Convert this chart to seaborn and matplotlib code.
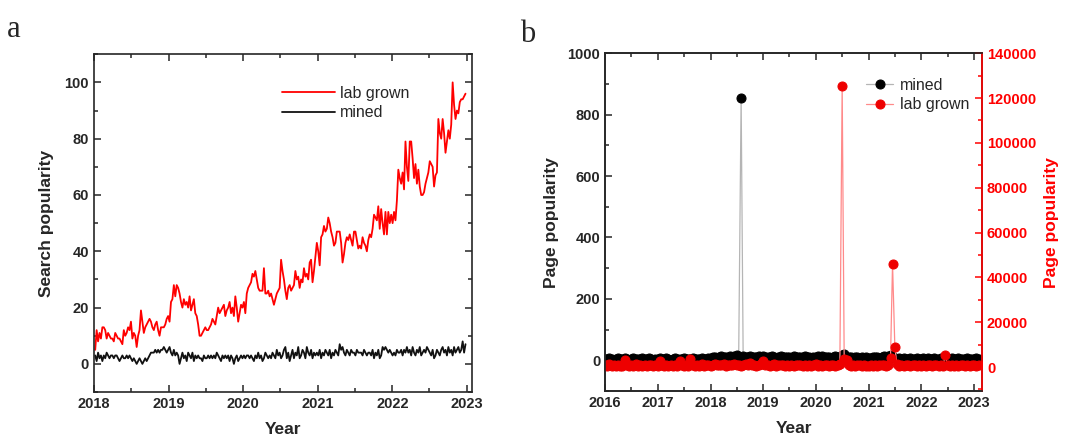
import pandas as pd
import numpy as np
import matplotlib
matplotlib.use("Agg")
import matplotlib.pyplot as plt
from matplotlib.ticker import MultipleLocator
import matplotlib.dates as mdates
import seaborn as sns

# ==========================================================
# Data
# ==========================================================

# panel a : weekly search popularity 2018-2022
lab_grown_search = [
    5, 12, 8, 11, 9, 13, 13, 12, 9, 11, 10, 9, 9, 8, 11, 10, 9, 9, 8, 7,
    12, 10, 11, 13, 12, 15, 9, 11, 10, 6, 10, 12, 19, 15, 11, 13, 14, 15, 16, 15,
    13, 12, 14, 15, 12, 10, 13, 13, 13, 14, 16, 17,
    15, 22, 23, 28, 24, 28, 27, 25, 22, 20, 23, 21, 22, 20, 24, 19, 21, 23, 18, 17,
    14, 10, 10, 11, 12, 13, 12, 12, 13, 14, 16, 15, 14, 17, 20, 18, 19, 20, 21, 17,
    19, 20, 22, 18, 20, 17, 24, 20, 15, 18, 21, 20,
    22, 18, 25, 27, 28, 29, 32, 31, 33, 30, 27, 26, 26, 26, 34, 25, 25, 26, 24, 25,
    23, 21, 23, 25, 26, 27, 37, 33, 30, 26, 23, 27, 28, 26, 27, 28, 33, 30, 31, 27,
    30, 29, 34, 31, 32, 30, 36, 37, 29, 33, 38, 43,
    40, 35, 45, 46, 49, 47, 48, 52, 50, 47, 45, 42, 43, 47, 47, 47, 43, 36, 39, 43,
    45, 44, 46, 44, 42, 47, 47, 44, 41, 42, 41, 45, 43, 42, 40, 44, 46, 45, 48, 53,
    52, 51, 56, 48, 55, 50, 46, 54, 46, 54, 50, 53,
    50, 54, 51, 58, 69, 66, 64, 68, 62, 79, 70, 65, 79, 79, 73, 66, 71, 64, 69, 63,
    60, 60, 61, 64, 66, 68, 72, 71, 70, 63, 67, 68, 87, 82, 80, 87, 82, 75, 79, 83,
    80, 85, 100, 92, 87, 90, 89, 93, 94, 94, 95, 96,
]
mined_search = [
    3, 1, 4, 2, 3, 1, 3, 2, 4, 3, 2, 3, 3, 2, 3, 3, 2, 1, 2, 3,
    2, 2, 3, 2, 3, 2, 1, 2, 1, 0, 1, 2, 1, 0, 1, 2, 1, 2, 3, 4,
    4, 4, 5, 4, 5, 4, 5, 5, 6, 5, 4, 5,
    6, 4, 3, 5, 3, 4, 3, 0, 2, 4, 2, 3, 1, 4, 3, 2, 4, 1, 3, 2,
    3, 2, 2, 1, 3, 2, 2, 3, 2, 3, 2, 3, 2, 4, 3, 2, 1, 3, 2, 3,
    2, 3, 1, 3, 2, 0, 2, 3, 1, 2, 3, 2,
    3, 2, 3, 3, 2, 3, 2, 1, 3, 2, 4, 2, 3, 1, 2, 4, 3, 2, 3, 2,
    4, 3, 2, 5, 3, 4, 2, 3, 5, 6, 2, 4, 1, 3, 5, 2, 4, 3, 6, 2,
    3, 5, 4, 2, 6, 4, 3, 5, 2, 4, 3, 4,
    3, 5, 2, 4, 3, 5, 4, 3, 5, 2, 4, 3, 5, 4, 3, 7, 5, 6, 4, 3,
    5, 4, 3, 5, 4, 4, 3, 5, 4, 4, 4, 3, 5, 4, 3, 4, 4, 3, 5, 2,
    4, 3, 5, 2, 3, 6, 5, 6, 5, 4, 5, 4,
    3, 4, 3, 5, 4, 4, 5, 3, 5, 4, 6, 4, 5, 3, 6, 4, 3, 5, 4, 6,
    3, 4, 5, 4, 6, 5, 4, 3, 5, 2, 3, 5, 4, 3, 5, 6, 4, 5, 3, 6,
    4, 5, 3, 6, 4, 5, 6, 4, 5, 8, 4, 7,
]

# panel b : half-monthly page popularity 2016-2023
mined_page = [
    5, 3, 6, 4, 2, 5, 7, 4, 3, 6, 5, 2, 4, 6, 3, 5, 4, 7, 3, 5, 6, 4, 2, 5,
    4, 6, 3, 5, 7, 4, 2, 5, 6, 3, 4, 5, 6, 4, 3, 5, 7, 4, 5, 3, 6, 4, 5, 6,
    8, 10, 12, 9, 11, 13, 10, 12, 9, 14, 11, 13, 16, 12, 855, 14, 12, 10, 13, 11, 12, 10, 14, 12,
    13, 11, 12, 10, 14, 12, 9, 11, 13, 12, 10, 11, 12, 9, 13, 11, 10, 12, 11, 13, 10, 12, 9, 11,
    12, 14, 10, 13, 11, 12, 10, 9, 11, 13, 12, 10, 18, 22, 12, 10, 11, 9, 12, 10, 8, 11, 9, 10,
    8, 9, 11, 10, 12, 9, 10, 13, 11, 14, 18, 10, 6, 5, 7, 4, 6, 5, 3, 6, 4, 5, 7, 4,
    5, 6, 4, 7, 5, 3, 6, 4, 5, 7, 4, 6, 5, 3, 6, 4, 5, 6, 4, 5, 3, 6, 4, 5,
    4, 6, 5,
]
lab_grown_page = [
    800, 300, 1200, 500, 900, 400, 1100, 600, 300, 3300, 700, 400, 900, 500, 1200, 300,
    800, 600, 1000, 400, 700, 900, 500, 1100,
    600, 2500, 900, 400, 1000, 500, 800, 300, 1100, 600, 2500, 700, 400, 900, 500, 3500,
    800, 600, 1000, 400, 1200, 500, 700, 900,
    600, 900, 1200, 700, 1000, 800, 1300, 600, 900, 1100, 700, 1200, 800, 1000, 600, 900,
    1300, 700, 2000, 800, 1100, 600, 900, 1200,
    2500, 700, 1000, 600, 900, 1200, 500, 800, 1100, 700, 400, 900, 600, 1000, 500, 800,
    700, 1100, 400, 900, 600, 1000, 500, 800,
    1500, 600, 900, 400, 1000, 700, 500, 800, 1100, 600, 900, 1200, 125500, 3500, 3000, 800,
    600, 1000, 500, 900, 700, 400, 800, 600,
    500, 900, 600, 1100, 400, 800, 700, 1000, 500, 900, 4000, 46000, 9000, 1500, 600, 900,
    400, 800, 1000, 500, 700, 900, 400, 800,
    600, 1000, 500, 900, 700, 400, 800, 1100, 600, 900, 500, 5500, 700, 400, 1000, 600,
    800, 500, 900, 700, 400, 1000, 600, 800,
    700, 500, 900,
]

weeks = pd.date_range("2018-01-07", periods=len(lab_grown_search), freq="W")
half_months = pd.date_range("2016-01-01", periods=len(mined_page), freq="SMS")

df_a = pd.DataFrame({"date": weeks, "lab grown": lab_grown_search, "mined": mined_search})
df_b = pd.DataFrame({"date": half_months, "mined": mined_page, "lab grown": lab_grown_page})

# ==========================================================
# Style
# ==========================================================

sns.set_style("ticks")
plt.rcParams["font.family"] = ["Liberation Sans", "DejaVu Sans"]
plt.rcParams["font.weight"] = "bold"
plt.rcParams["axes.linewidth"] = 1.2


def style_axis(ax):
    ax.tick_params(which="both", direction="in", width=1.1, labelsize=10.5)
    ax.tick_params(which="major", length=5)
    ax.tick_params(which="minor", length=3)
    for lab in ax.get_xticklabels() + ax.get_yticklabels():
        lab.set_fontweight("bold")


fig = plt.figure(figsize=(10.68, 4.41), dpi=100)

# ==========================================================
# Panel a
# ==========================================================

ax1 = fig.add_axes([0.088, 0.111, 0.354, 0.766])
sns.lineplot(data=df_a, x="date", y="lab grown", ax=ax1, color="#ff0000", linewidth=1.3, label="lab grown")
sns.lineplot(data=df_a, x="date", y="mined", ax=ax1, color="#111111", linewidth=1.3, label="mined")

ax1.set_xlim(pd.Timestamp("2018-01-01"), pd.Timestamp("2023-01-26"))
ax1.set_ylim(-10, 110)
ax1.xaxis.set_major_locator(mdates.YearLocator())
ax1.xaxis.set_minor_locator(mdates.MonthLocator(bymonth=7))
ax1.xaxis.set_major_formatter(mdates.DateFormatter("%Y"))
ax1.yaxis.set_major_locator(MultipleLocator(20))
ax1.yaxis.set_minor_locator(MultipleLocator(10))
ax1.tick_params(which="both", top=True, right=True)
style_axis(ax1)
ax1.set_xlabel("Year", fontsize=12.5, fontweight="bold", labelpad=8)
ax1.set_ylabel("Search popularity", fontsize=12.5, fontweight="bold", labelpad=8)
leg = ax1.legend(loc="upper left", bbox_to_anchor=(0.46, 0.95), frameon=False,
                 handlelength=3.3, fontsize=11.5, labelspacing=0.3, handletextpad=0.3)
for t in leg.get_texts():
    t.set_fontweight("normal")

# ==========================================================
# Panel b
# ==========================================================

ax2 = fig.add_axes([0.5665, 0.1134, 0.353, 0.766])
sns.lineplot(data=df_b, x="date", y="mined", ax=ax2, color="#b5b5b5", linewidth=0.9,
             marker="o", markersize=6.5, markerfacecolor="black", markeredgecolor="black",
             label="mined")
ax3 = ax2.twinx()
sns.lineplot(data=df_b, x="date", y="lab grown", ax=ax3, color="#ff8a8a", linewidth=0.9,
             marker="o", markersize=6.5, markerfacecolor="#ee0000", markeredgecolor="#ee0000",
             label="lab grown")

ax2.set_xlim(pd.Timestamp("2016-01-01"), pd.Timestamp("2023-02-25"))
ax2.set_ylim(-100, 1000)
ax3.set_ylim(-10700, 140000)
ax2.xaxis.set_major_locator(mdates.YearLocator())
ax2.xaxis.set_minor_locator(mdates.MonthLocator(bymonth=7))
ax2.xaxis.set_major_formatter(mdates.DateFormatter("%Y"))
ax2.yaxis.set_major_locator(MultipleLocator(200))
ax2.yaxis.set_minor_locator(MultipleLocator(100))
ax3.yaxis.set_major_locator(MultipleLocator(20000))
ax3.yaxis.set_minor_locator(MultipleLocator(10000))
ax2.tick_params(which="both", top=True)
style_axis(ax2)
style_axis(ax3)
ax3.tick_params(which="both", colors="#ff0000")
ax3.spines["right"].set_color("#ff0000")
for lab in ax3.get_yticklabels():
    lab.set_color("#ff0000")

ax2.set_xlabel("Year", fontsize=12.5, fontweight="bold", labelpad=8)
ax2.set_ylabel("Page popularity", fontsize=12.5, fontweight="bold", labelpad=6)
ax3.set_ylabel("Page popularity", fontsize=12.5, fontweight="bold", color="#ff0000", labelpad=6)

h2, l2 = ax2.get_legend_handles_labels()
h3, l3 = ax3.get_legend_handles_labels()
if ax2.get_legend():
    ax2.get_legend().remove()
if ax3.get_legend():
    ax3.get_legend().remove()
leg2 = ax3.legend(h2 + h3, l2 + l3, loc="upper left", bbox_to_anchor=(0.655, 0.97),
                  frameon=False, handlelength=1.7, fontsize=11.5, labelspacing=0.3,
                  handletextpad=0.4)
for t in leg2.get_texts():
    t.set_fontweight("normal")

# panel letters
fig.text(0.006, 0.915, "a", family="Liberation Serif", fontsize=22, fontweight="normal")
fig.text(0.487, 0.905, "b", family="Liberation Serif", fontsize=22, fontweight="normal")

fig.savefig("out.png", dpi=100)
